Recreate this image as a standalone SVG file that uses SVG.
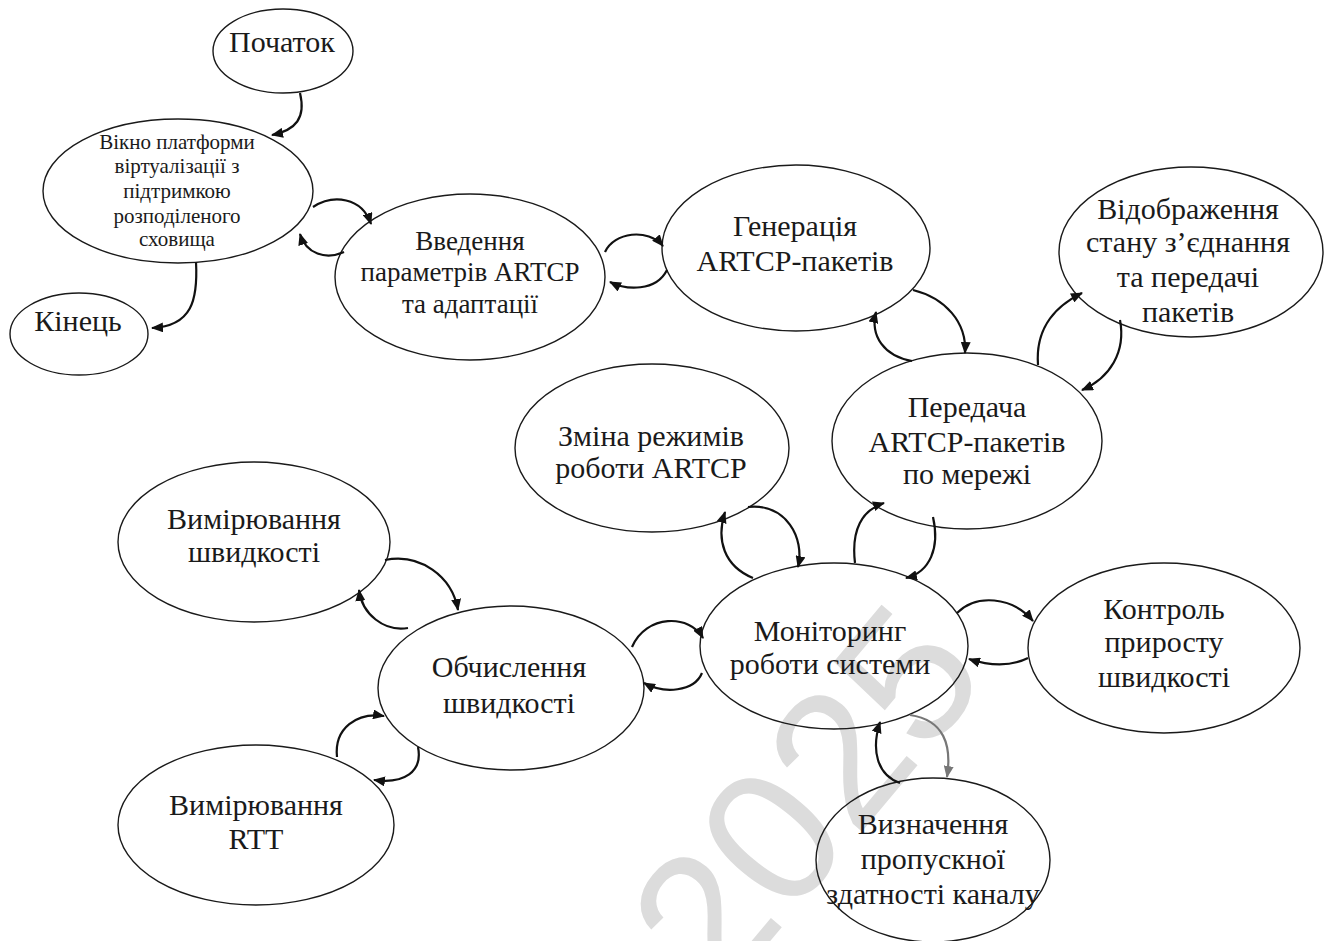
<svg xmlns="http://www.w3.org/2000/svg" width="1325" height="941" viewBox="0 0 1325 941">
<style>
.n{fill:none;stroke:#1a1a1a;stroke-width:1.4}
.t{font-family:"Liberation Serif","Times New Roman",serif;font-size:30px;fill:#1a1a1a;text-anchor:middle}
.s{font-size:21px}
.m{font-size:27px}
.c{fill:none;stroke:#111;stroke-width:2.2;marker-end:url(#ah)}
.g{stroke:#777;marker-end:url(#ahg)}
</style>
<defs>
<marker id="ah" viewBox="0 0 12 10" refX="11" refY="5" markerWidth="12" markerHeight="10" markerUnits="userSpaceOnUse" orient="auto"><path d="M0,0 L12,5 L0,10 z" fill="#111"/></marker>
<marker id="ahg" viewBox="0 0 12 10" refX="11" refY="5" markerWidth="12" markerHeight="10" markerUnits="userSpaceOnUse" orient="auto"><path d="M0,0 L12,5 L0,10 z" fill="#777"/></marker>
</defs>
<rect width="1325" height="941" fill="#fff"/>
<g id="watermark" transform="translate(806,797) rotate(-50)">
<text x="0" y="65" font-family="Liberation Sans,Arial,sans-serif" font-size="190" fill="#dcdcdc" text-anchor="middle">2025</text>
</g>
<g id="start"><ellipse class="n" cx="283" cy="51" rx="70" ry="42"/><text class="t" x="282" y="52">Початок</text></g>
<g id="window"><ellipse class="n" cx="178" cy="191" rx="135" ry="72"/><text class="t s" x="177"><tspan x="177" y="149">Вікно платформи</tspan><tspan x="177" y="173">віртуалізації з</tspan><tspan x="177" y="198">підтримкою</tspan><tspan x="177" y="223">розподіленого</tspan><tspan x="177" y="246">сховища</tspan></text></g>
<g id="end"><ellipse class="n" cx="79" cy="334" rx="69" ry="41"/><text class="t" x="78" y="331">Кінець</text></g>
<g id="params"><ellipse class="n" cx="470" cy="277" rx="135" ry="83"/><text class="t m"><tspan x="470" y="250">Введення</tspan><tspan x="470" y="281">параметрів ARTCP</tspan><tspan x="470" y="313">та адаптації</tspan></text></g>
<g id="gen"><ellipse class="n" cx="796" cy="248" rx="134" ry="83"/><text class="t"><tspan x="795" y="236">Генерація</tspan><tspan x="795" y="271">ARTCP-пакетів</tspan></text></g>
<g id="display"><ellipse class="n" cx="1191" cy="252" rx="132" ry="85"/><text class="t"><tspan x="1188" y="219">Відображення</tspan><tspan x="1188" y="252">стану з’єднання</tspan><tspan x="1188" y="287">та передачі</tspan><tspan x="1188" y="322">пакетів</tspan></text></g>
<g id="transfer"><ellipse class="n" cx="967" cy="441" rx="135" ry="88"/><text class="t"><tspan x="967" y="417">Передача</tspan><tspan x="967" y="452">ARTCP-пакетів</tspan><tspan x="967" y="484">по мережі</tspan></text></g>
<g id="modes"><ellipse class="n" cx="652" cy="448" rx="137" ry="84"/><text class="t"><tspan x="651" y="446">Зміна режимів</tspan><tspan x="651" y="478">роботи ARTCP</tspan></text></g>
<g id="speedmeas"><ellipse class="n" cx="254" cy="542" rx="136" ry="80"/><text class="t"><tspan x="254" y="529">Вимірювання</tspan><tspan x="254" y="562">швидкості</tspan></text></g>
<g id="calc"><ellipse class="n" cx="511" cy="688" rx="133" ry="82"/><text class="t"><tspan x="509" y="677">Обчислення</tspan><tspan x="509" y="713">швидкості</tspan></text></g>
<g id="monitor"><ellipse class="n" cx="834" cy="646" rx="134" ry="83"/><text class="t"><tspan x="830" y="641">Моніторинг</tspan><tspan x="830" y="674">роботи системи</tspan></text></g>
<g id="control"><ellipse class="n" cx="1164" cy="648" rx="136" ry="85"/><text class="t"><tspan x="1164" y="619">Контроль</tspan><tspan x="1164" y="652">приросту</tspan><tspan x="1164" y="687">швидкості</tspan></text></g>
<g id="rtt"><ellipse class="n" cx="256" cy="825" rx="138" ry="80"/><text class="t"><tspan x="256" y="815">Вимірювання</tspan><tspan x="256" y="849">RTT</tspan></text></g>
<g id="bandwidth"><ellipse class="n" cx="933" cy="860" rx="117" ry="82"/><text class="t"><tspan x="933" y="834">Визначення</tspan><tspan x="933" y="869">пропускної</tspan><tspan x="933" y="904">здатності каналу</tspan></text></g>
<g id="connectors">
<path class="c" d="M300 93 C306 118 296 130 272 135"/>
<path class="c" d="M313 207 C333 194 362 197 371 224"/>
<path class="c" d="M344 252 C326 260 306 254 300 234"/>
<path class="c" d="M196 262 C198 300 192 326 152 328"/>
<path class="c" d="M605 252 C614 232 648 228 663 246"/>
<path class="c" d="M667 270 C656 292 626 290 610 282"/>
<path class="c" d="M913 290 C945 298 967 322 965 353"/>
<path class="c" d="M912 361 C884 356 870 336 876 312"/>
<path class="c" d="M1038 365 C1035 325 1058 305 1082 293"/>
<path class="c" d="M1120 320 C1126 352 1110 378 1082 390"/>
<path class="c" d="M748 507 C786 503 805 538 798 567"/>
<path class="c" d="M753 578 C724 566 716 540 725 512"/>
<path class="c" d="M855 563 C851 530 862 510 884 503"/>
<path class="c" d="M933 517 C940 548 930 572 906 578"/>
<path class="c" d="M632 647 C646 614 690 614 703 638"/>
<path class="c" d="M702 673 C694 692 664 694 644 683"/>
<path class="c" d="M385 560 C420 553 452 576 458 610"/>
<path class="c" d="M408 628 C384 632 362 614 359 590"/>
<path class="c" d="M337 757 C334 728 357 712 384 716"/>
<path class="c" d="M418 747 C423 772 404 784 374 780"/>
<path class="c" d="M957 613 C976 594 1012 596 1033 621"/>
<path class="c" d="M1028 658 C1010 667 990 666 969 659"/>
<path class="c g" d="M910 715 C944 720 952 745 947 777"/>
<path class="c" d="M900 783 C877 775 871 750 880 722"/>
</g>
</svg>
